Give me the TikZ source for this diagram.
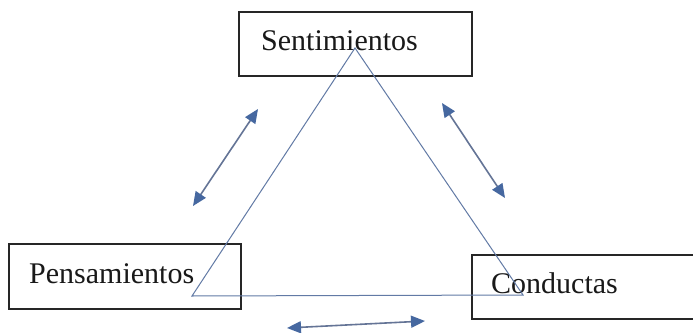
\documentclass[tikz,border=0pt]{standalone}
\usepackage{fontspec}
\setmainfont{Liberation Serif}
\usetikzlibrary{arrows.meta}
\definecolor{triline}{RGB}{98,122,165}
\definecolor{arrowblue}{RGB}{70,104,160}
\definecolor{shaft}{RGB}{100,116,150}
\begin{document}
\begin{tikzpicture}[x=1pt,y=-1pt,
  box/.style={draw=black!85,line width=1.4pt,fill=none},
  lbl/.style={font=\fontsize{30}{32}\selectfont,text=black!90,inner sep=0pt,anchor=base west},
  tri/.style={draw=triline,line width=1pt,line join=miter},
  bluetip/.tip={Triangle[length=14pt,width=12pt,color=arrowblue]},
  dbl/.style={draw=shaft,line width=1.6pt,bluetip-bluetip}]
\useasboundingbox (0,0) rectangle (693,332);
\fill[white] (0,0) rectangle (693,332);
% boxes
\draw[box] (239,12) rectangle (472,76);
\draw[box] (9,244) rectangle (241,309);
\draw[box] (472,255) rectangle (705,319);
% labels
\node[lbl] (sent) at (261,50) {Sentimientos};
\node[lbl] (pens) at (29,283) {Pensamientos};
\node[lbl] (cond) at (491,293) {Conductas};
% triangle
\coordinate (A) at (355,48);
\coordinate (B) at (192,296);
\coordinate (C) at (523,295);
\draw[tri] (A) -- (B) -- (C) -- cycle;
% arrows
\coordinate (a1s) at (258,109);
\coordinate (a1e) at (193,206);
\coordinate (a2s) at (442,103);
\coordinate (a2e) at (505,198);
\coordinate (a3s) at (287,328);
\coordinate (a3e) at (425,321);
\draw[dbl] (a1s) -- (a1e);
\draw[dbl] (a2s) -- (a2e);
\draw[dbl] (a3s) -- (a3e);
\end{tikzpicture}
\end{document}
